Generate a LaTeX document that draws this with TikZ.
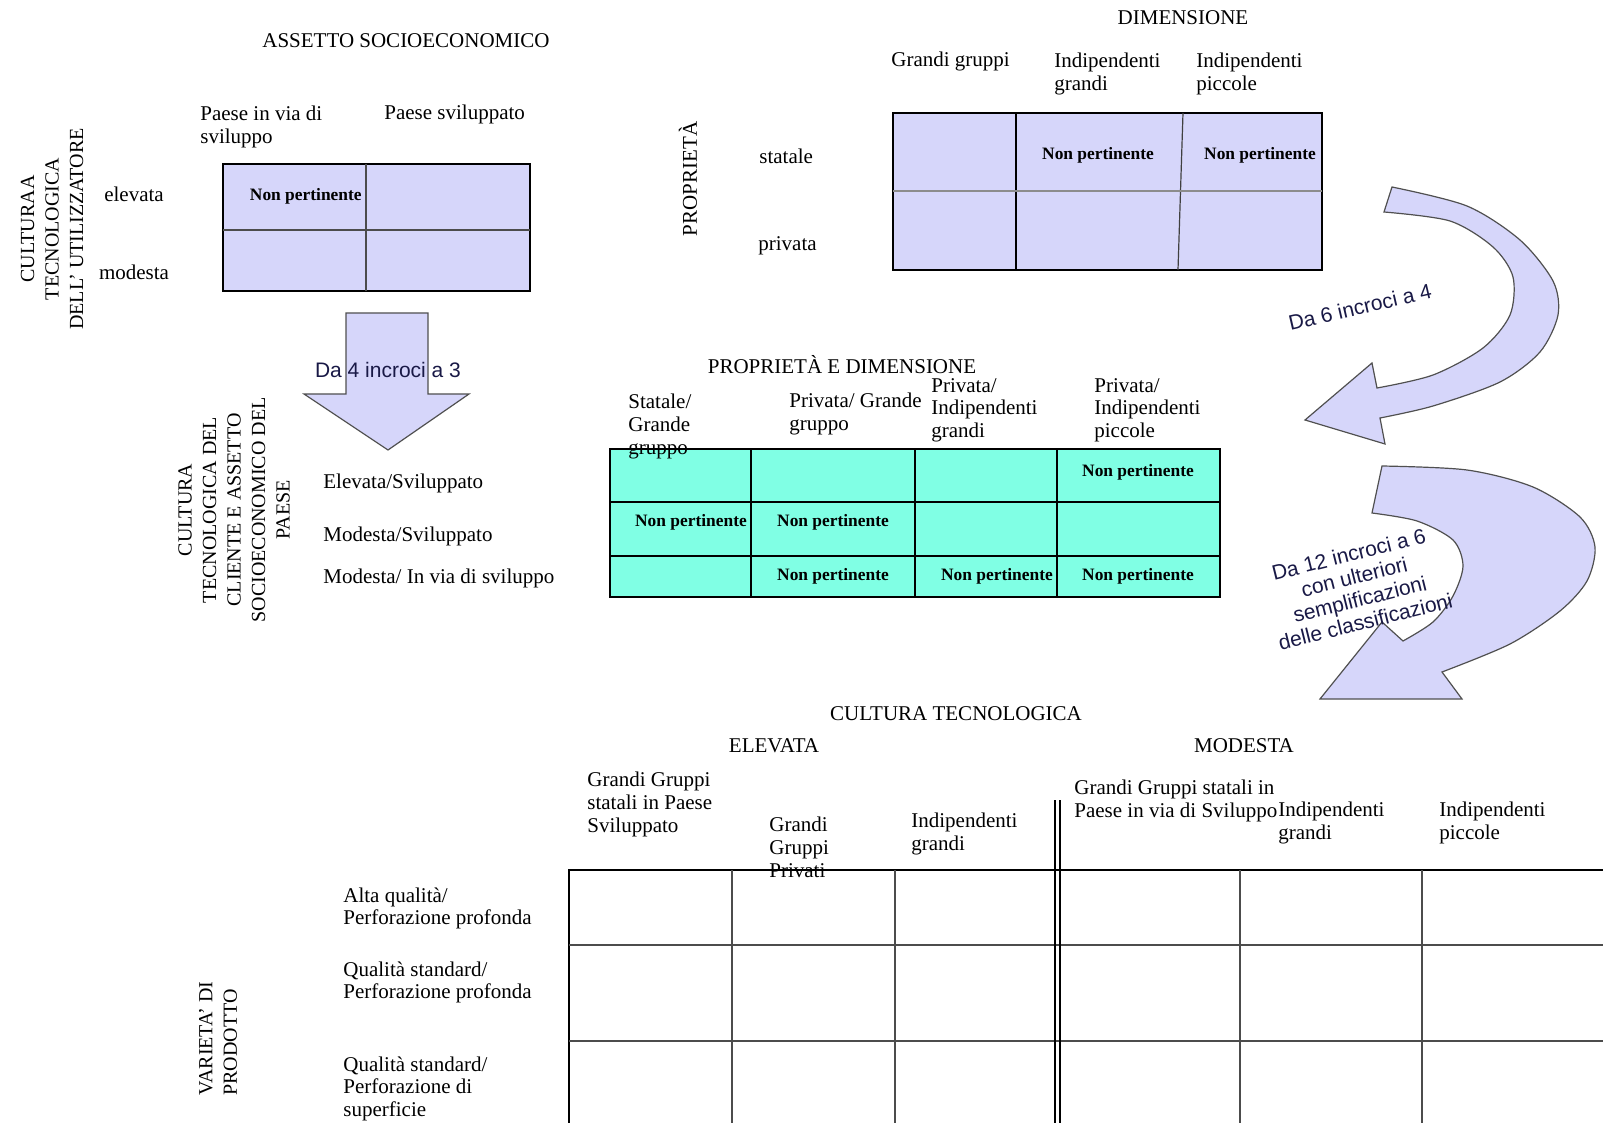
\documentclass[tikz,border=0pt]{standalone}
\usepackage{fontspec}
\setmainfont{Liberation Serif}
\setsansfont{Liberation Sans}
\usetikzlibrary{arrows,shapes}
\definecolor{lavanda}{RGB}{214,214,250}
\definecolor{acqua}{RGB}{128,255,228}
\definecolor{bordo}{RGB}{80,80,80}
\definecolor{blu}{RGB}{25,25,70}
\tikzstyle{griglia} = [draw,line width=1pt]
\tikzstyle{interna} = [draw,line width=0.8pt,black!70]

\begin{document}
\begin{tikzpicture}[x=0.5pt,y=-0.5pt,
  font=\fontsize{10.5}{11.3}\selectfont,
  titolo/.style={inner sep=0pt},
  etichetta/.style={inner sep=0pt,anchor=west,text height=7pt,text depth=2pt},
  blocco/.style={inner sep=0pt,anchor=north west,align=left},
  ruotato/.style={inner sep=0pt,rotate=90,align=center,font=\fontsize{10}{12.25}\selectfont},
  np/.style={inner sep=0pt,font=\bfseries\fontsize{8.7}{9}\selectfont},
  sans/.style={inner sep=0pt,align=center,text=blu,font=\sffamily\fontsize{10.5}{11.5}\selectfont},
  freccia/.style={fill=lavanda,draw=bordo,line width=0.6pt}]

  \useasboundingbox (0,0) rectangle (1603,1123);

  % assetto socioeconomico
  \node[titolo] (assetto) at (406,41) {ASSETTO SOCIOECONOMICO};
  \node[blocco] (viasviluppo) at (200,106) {Paese in via di\\sviluppo};
  \node[etichetta] (sviluppato) at (384,115) {Paese sviluppato};
  \node[titolo] (elevata) at (134,194) {elevata};
  \node[titolo] (modesta) at (134,272) {modesta};
  \node[ruotato] (culturaA) at (52,229) {CULTURAA\\TECNOLOGICA\\DELL' UTILIZZATORE};

  \draw[griglia,fill=lavanda] (223,164) rectangle (530,291);
  \draw[interna] (366,164) -- (366,291);
  \draw[interna] (223,230) -- (530,230);
  \node[np,anchor=east] (npA) at (362,196) {Non pertinente};

  % freccia verso il basso
  \draw[freccia] (346,313) -- (428,313) -- (428,394) -- (469,394) -- (388,450)
    -- (304,394) -- (346,394) -- cycle;
  \node[sans] (da4) at (388,370) {Da 4 incroci a 3};

  \node[ruotato] (culturaB) at (234,510)
    {CULTURA\\TECNOLOGICA DEL\\CLIENTE E ASSETTO\\SOCIOECONOMICO DEL\\PAESE};
  \node[etichetta] (elsv) at (323,483) {Elevata/Sviluppato};
  \node[etichetta] (mosv) at (323,537) {Modesta/Sviluppato};
  \node[etichetta] (movia) at (323,578) {Modesta/ In via di sviluppo};

  % proprieta e dimensione
  \node[titolo] (dimensione) at (1183,18) {DIMENSIONE};
  \node[etichetta] (gg) at (891,62) {Grandi gruppi};
  \node[blocco] (igr) at (1054,53) {Indipendenti\\grandi};
  \node[blocco] (ipi) at (1196,53) {Indipendenti\\piccole};
  \node[titolo,rotate=90] (proprieta) at (688,179) {PROPRIETÀ};
  \node[etichetta] (statale) at (759,159) {statale};
  \node[etichetta] (privata) at (758,246) {privata};

  \draw[griglia,fill=lavanda] (893,113) rectangle (1322,270);
  \draw[griglia] (1016,113) -- (1016,270);
  \draw[draw=black!75,line width=0.6pt] (1183,113) -- (1178,270);
  \draw[draw=black!45,line width=1.2pt] (893,191) -- (1322,191);
  \node[np] (npB1) at (1098,155) {Non pertinente};
  \node[np] (npB2) at (1260,155) {Non pertinente};

  \draw[freccia] (1384,212) -- (1392,187)
    -- plot[smooth] coordinates {(1392,187) (1467,206) (1520,240) (1553,281) (1558,315)
       (1540,352) (1500,382) (1433,406) (1380,418)}
    -- (1385,444) -- (1305,420) -- (1372,363) -- (1377,388)
    -- plot[smooth] coordinates {(1377,388) (1433,375) (1483,348) (1510,315) (1513,277)
       (1493,247) (1450,221) (1384,212)}
    -- cycle;
  \node[sans,rotate=13] (da6) at (1360,307) {Da 6 incroci a 4};

  % tabella incroci
  \node[titolo] (propdim) at (842,365) {PROPRIETÀ E DIMENSIONE};
  \draw[griglia,fill=acqua] (610,449) rectangle (1220,597);
  \foreach \x in {751,915,1057} \draw[griglia] (\x,449) -- (\x,597);
  \foreach \y in {502,556} \draw[griglia] (610,\y) -- (1220,\y);
  \node[blocco] (stgr) at (628,394) {Statale/\\Grande\\gruppo};
  \node[blocco] (prgr) at (789,393) {Privata/ Grande\\gruppo};
  \node[blocco] (prig) at (931,378) {Privata/\\Indipendenti\\grandi};
  \node[blocco] (prip) at (1094,378) {Privata/\\Indipendenti\\piccole};
  \node[np] (npC1) at (1138,472) {Non pertinente};
  \node[np] (npC2) at (691,522) {Non pertinente};
  \node[np] (npC3) at (833,522) {Non pertinente};
  \node[np] (npC4) at (833,576) {Non pertinente};
  \node[np] (npC5) at (997,576) {Non pertinente};
  \node[np] (npC6) at (1138,576) {Non pertinente};

  \draw[freccia] (1372,513) -- (1382,466)
    -- plot[smooth] coordinates {(1382,466) (1467,470) (1533,487) (1580,517) (1595,547)
       (1587,581) (1560,611) (1510,644) (1442,672)}
    -- (1462,699) -- (1320,699) -- (1382,622) -- (1403,641)
    -- plot[smooth] coordinates {(1403,641) (1433,622) (1453,596) (1463,566) (1453,540)
       (1417,521) (1372,513)}
    -- cycle;
  \node[sans,rotate=14] (da12) at (1357,588)
    {Da 12 incroci a 6\\con ulteriori\\semplificazioni\\delle classificazioni};

  % cultura tecnologica e varieta di prodotto
  \node[titolo] (cultec) at (956,714) {CULTURA TECNOLOGICA};
  \node[titolo] (elev) at (774,746) {ELEVATA};
  \node[titolo] (mod) at (1244,746) {MODESTA};
  \node[blocco] (ggsv) at (587,772) {Grandi Gruppi\\statali in Paese\\Sviluppato};
  \node[blocco] (ggpr) at (769,817) {Grandi\\Gruppi\\Privati};
  \node[blocco] (indg1) at (911,813) {Indipendenti\\grandi};
  \node[blocco] (ggvia) at (1074,780) {Grandi Gruppi statali in\\Paese in via di Sviluppo};
  \node[blocco] (indg2) at (1278,802) {Indipendenti\\grandi};
  \node[blocco] (indp) at (1439,802) {Indipendenti\\piccole};

  \node[ruotato,align=left,anchor=west] (varieta) at (218,1096) {VARIETA' DI\\PRODOTTO};
  \node[blocco] (altaq) at (343,887) {Alta qualità/\\Perforazione profonda};
  \node[blocco] (stdprof) at (343,961) {Qualità standard/\\Perforazione profonda};
  \node[blocco] (stdsup) at (343,1056) {Qualità standard/\\Perforazione di\\superficie};

  \draw[griglia] (569,1130) -- (569,870) -- (1610,870);
  \foreach \y in {945,1041} \draw[interna] (569,\y) -- (1610,\y);
  \foreach \x in {732,895,1240,1422} \draw[interna] (\x,870) -- (\x,1130);
  \draw[line width=0.8pt] (1055,800) -- (1055,1130);
  \draw[line width=0.8pt] (1060,800) -- (1060,1130);

\end{tikzpicture}
\end{document}
